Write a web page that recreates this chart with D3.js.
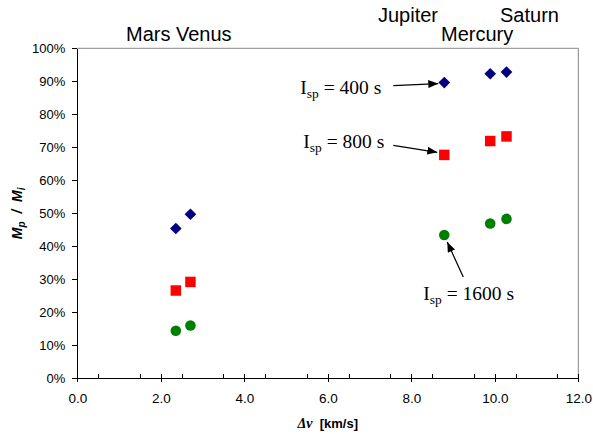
<html>
<head>
<meta charset="utf-8">
<title>Propellant mass fraction</title>
<style>
  body { margin: 0; background: #fff; }
  .axis path, .axis line { stroke: #000; shape-rendering: crispEdges; }
</style>
<script src="https://d3js.org/d3.v7.min.js" charset="utf-8"></script>
</head>
<body>
<script type="text/javascript">

// ---------- data ----------
var deltaV   = [2.36, 2.71, 8.79, 9.89, 10.28];      // km/s
var isp400   = [0.454, 0.497, 0.896, 0.923, 0.928];  // Mp/Mi
var isp800   = [0.266, 0.292, 0.677, 0.719, 0.733];
var isp1600  = [0.144, 0.160, 0.434, 0.469, 0.483];
var xTicks   = [0, 2, 4, 6, 8, 10, 12];
var yTicks   = [0, 0.1, 0.2, 0.3, 0.4, 0.5, 0.6, 0.7, 0.8, 0.9, 1.0];
var planetNames = ["Mars Venus", "Jupiter", "Saturn", "Mercury"];
var ispNames = ["400", "800", "1600"];

// ---------- layout ----------
var width = 593, height = 434;
var plot = {left: 77.3, right: 578.3, top: 48.3, bottom: 378.3};

var svg = d3.select("body").append("svg")
    .attr("width", width)
    .attr("height", height)
    .style("background", "#fff");

var x = d3.scaleLinear().domain([0, 12]).range([plot.left, plot.right]);
var y = d3.scaleLinear().domain([0, 1]).range([plot.bottom, plot.top]);

var sans = "Arial, 'Liberation Sans', sans-serif";
var serif = "'Times New Roman', 'Liberation Serif', serif";

// plot border (top + right, grey)
svg.append("path")
    .attr("d", "M" + plot.left + "," + plot.top + "H" + plot.right + "V" + plot.bottom)
    .attr("fill", "none")
    .attr("stroke", "#868686")
    .attr("stroke-width", 1);

// y axis
var yAxis = d3.axisLeft(y)
    .tickValues(yTicks)
    .tickFormat(d3.format(".0%"))
    .tickSizeInner(5)
    .tickSizeOuter(0)
    .tickPadding(7);
var gy = svg.append("g").attr("class", "axis")
    .attr("transform", "translate(" + plot.left + ",0)")
    .call(yAxis);
gy.selectAll("text").style("font-family", sans).style("font-size", "13px").attr("fill", "#000");

// x axis (major ticks cross the line, minor ticks inside)
var xAxis = d3.axisBottom(x)
    .tickValues(xTicks)
    .tickFormat(d3.format(".1f"))
    .tickSizeInner(4)
    .tickSizeOuter(0)
    .tickPadding(11);
var gx = svg.append("g").attr("class", "axis")
    .attr("transform", "translate(0," + plot.bottom + ")")
    .call(xAxis);
gx.selectAll(".tick").append("line").attr("y2", -4).attr("stroke", "#000");
gx.selectAll("text").style("font-family", sans).style("font-size", "13.5px").attr("fill", "#000");
gx.selectAll(".minor")
    .data(d3.range(0.5, 12, 1))
    .enter().append("line")
    .attr("class", "minor")
    .attr("x1", function(d){ return Math.round(x(d)) + 0.5; })
    .attr("x2", function(d){ return Math.round(x(d)) + 0.5; })
    .attr("y1", 0).attr("y2", -4)
    .attr("stroke", "#000");

// axis titles
var yl = svg.append("text")
    .attr("transform", "translate(22," + ((plot.top + plot.bottom) / 2) + ") rotate(-90)")
    .attr("text-anchor", "middle")
    .style("font-family", sans).style("font-size", "14px")
    .style("font-weight", "bold").style("font-style", "italic")
    .style("white-space", "pre");
yl.append("tspan").text("M");
yl.append("tspan").attr("dy", 3).style("font-size", "10px").text("p");
yl.append("tspan").attr("dy", -3).text("  /  M");
yl.append("tspan").attr("dy", 3).style("font-size", "10px").text("i");

var xl = svg.append("text")
    .attr("x", (plot.left + plot.right) / 2)
    .attr("y", 428)
    .attr("text-anchor", "middle")
    .style("white-space", "pre");
xl.append("tspan").style("font-family", serif).style("font-style", "italic").style("font-weight", "bold").style("font-size", "14px").text("\u0394v");
xl.append("tspan").style("font-family", sans).style("font-weight", "bold").style("font-size", "13px").text("  [km/s]");

// planet labels
var planetPos = [[126, 40.5], [378, 21.7], [500, 21.7], [441, 40.5]];
svg.selectAll(".planet")
    .data(planetNames)
    .enter().append("text")
    .attr("class", "planet")
    .attr("x", function(d, i){ return planetPos[i][0]; })
    .attr("y", function(d, i){ return planetPos[i][1]; })
    .style("font-family", sans).style("font-size", "20px")
    .text(function(d){ return d; });

// markers
var series = [
    {vals: isp400,  color: "#000080", shape: d3.symbolSquare, size: 68, rot: 45},
    {vals: isp800,  color: "#ff0000", shape: d3.symbolSquare, size: 110, rot: 0},
    {vals: isp1600, color: "#008000", shape: d3.symbolCircle, size: 88, rot: 0}
];
series.forEach(function(s){
    svg.append("g").selectAll("path")
        .data(s.vals)
        .enter().append("path")
        .attr("d", d3.symbol().type(s.shape).size(s.size))
        .attr("transform", function(d, i){
            return "translate(" + x(deltaV[i]) + "," + y(d) + ") rotate(" + s.rot + ")";
        })
        .attr("fill", s.color);
});

// Isp annotations, pointing at the Jupiter point of each series
svg.append("defs").append("marker")
    .attr("id", "arrow")
    .attr("markerUnits", "userSpaceOnUse")
    .attr("viewBox", "0 0 10 8")
    .attr("refX", 10).attr("refY", 4)
    .attr("markerWidth", 10).attr("markerHeight", 8)
    .attr("orient", "auto")
    .append("path").attr("d", "M0,0L10,4L0,8Z").attr("fill", "#000");

var annot = [
    {text: [-144, 11],  from: [-51, 3],    to: [-6, 1]},
    {text: [-141, -6.6], from: [-51, -9.6], to: [-7, -2.6]},
    {text: [-21, 65],   from: [19, 42],    to: [3, 7]}
];
series.forEach(function(s, k){
    var px = x(deltaV[2]), py = y(s.vals[2]), a = annot[k];
    svg.append("line")
        .attr("x1", px + a.from[0]).attr("y1", py + a.from[1])
        .attr("x2", px + a.to[0]).attr("y2", py + a.to[1])
        .attr("stroke", "#000").attr("stroke-width", 1.2)
        .attr("marker-end", "url(#arrow)");
    var t = svg.append("text")
        .attr("x", px + a.text[0]).attr("y", py + a.text[1])
        .style("font-family", serif).style("font-size", "19.5px")
        .style("white-space", "pre");
    t.append("tspan").text("I");
    t.append("tspan").attr("dy", 4).style("font-size", "13.5px").text("sp");
    t.append("tspan").attr("dy", -4).text(" = " + ispNames[k] + " s");
});

</script>
</body>
</html>
